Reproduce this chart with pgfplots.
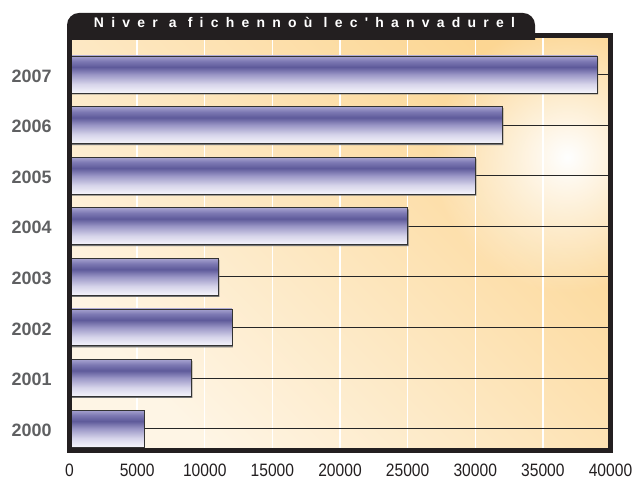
\documentclass[border=0pt]{standalone}
\usepackage{fontspec}
\setmainfont{Liberation Sans}
\newfontfamily\titlefont[Ligatures=TeXOff,LetterSpace=52]{Liberation Sans}
\usepackage{pgfplots}
\pgfplotsset{compat=1.18}
\usetikzlibrary{fadings,calc}
\definecolor{framec}{HTML}{231F20}
\definecolor{cream}{HTML}{FEF5E5}
\definecolor{orng}{HTML}{FCD693}
\definecolor{ytickc}{HTML}{5F6062}
\definecolor{b0}{HTML}{F6F5FB}
\definecolor{b1}{HTML}{D6D4EA}
\definecolor{b2}{HTML}{9A96C6}
\definecolor{b3}{HTML}{5E5A9A}
\definecolor{b4}{HTML}{7D79B3}
\definecolor{b5}{HTML}{A7A3D0}
\pgfdeclareverticalshading{barshade}{100bp}{color(0bp)=(b0); color(25bp)=(b0); color(37bp)=(b1); color(50bp)=(b2); color(60bp)=(b3); color(68bp)=(b4); color(75bp)=(b5); color(100bp)=(b5)}
\tikzfading[name=glowfade, inner color=transparent!0, outer color=transparent!100]
\newcommand{\sx}[1]{\scalebox{0.87}[1]{#1}}
\pgfplotsset{
  barsty/.style={xbar, bar shift=0pt, shade, shading=barshade, draw=black!80, line width=0.6bp},
}
\begin{document}
\begin{tikzpicture}[x=1bp,y=1bp]
\begin{axis}[
  name=ax, at={(0,0)}, anchor=south west,
  set layers,
  width=541bp, height=415bp, scale only axis,
  xbar, bar width=0.73,
  xmin=0, xmax=40000, ymin=-0.445, ymax=7.76,
  xtick={0,5000,10000,15000,20000,25000,30000,35000,40000},
  xticklabels={\sx{0},\sx{5000},\sx{10000},\sx{15000},\sx{20000},\sx{25000},\sx{30000},\sx{35000},\sx{40000}},
  ytick={0,1,2,3,4,5,6,7},
  yticklabels={2000,2001,2002,2003,2004,2005,2006,2007},
  xmajorgrids, ymajorgrids,
  x grid style={white, line width=1.3bp},
  y grid style={black!85, line width=0.7bp},
  axis line style={framec, line width=5bp},
  tick style={draw=none},
  axis background/.style={shade, top color=orng, bottom color=cream, shading angle=-45},
  yticklabel style={font=\fontsize{18}{18}\selectfont\bfseries, text=ytickc, anchor=east, inner sep=0pt, xshift=-13.5bp, yshift=-1.5bp},
  xticklabel style={font=\fontsize{18}{18}\selectfont, text=framec, anchor=north, inner sep=0pt, yshift=-12.5bp},
]
\begin{pgfonlayer}{axis background}
\begin{scope}
\clip (rel axis cs:0,0) rectangle (rel axis cs:1,1);
\fill[white, path fading=glowfade] (rel axis cs:0.92,0.708) circle (135bp);
\end{scope}
\end{pgfonlayer}
\addplot[xbar, bar shift=-1.6bp, fill=black!55, draw=none] coordinates {
(5580,0) (9080,1) (12080,2) (11080,3) (25080,4) (30080,5) (32080,6) (39080,7)};
\addplot[barsty] coordinates {(5500,0)};
\addplot[barsty] coordinates {(9000,1)};
\addplot[barsty] coordinates {(12000,2)};
\addplot[barsty] coordinates {(11000,3)};
\addplot[barsty] coordinates {(25000,4)};
\addplot[barsty] coordinates {(30000,5)};
\addplot[barsty] coordinates {(32000,6)};
\addplot[barsty] coordinates {(39000,7)};
\end{axis}
% frame
\draw[framec, line width=5bp, line join=miter] (ax.south west) rectangle (ax.north east);
% title tab
\begin{scope}[shift={(ax.south west)}]
\clip (-10,411) rectangle (480,450);
\fill[framec, rounded corners=12bp] (-2.5,380) rectangle (465.5,438);
\end{scope}
\node[text=white, inner sep=0pt, font=\fontsize{14}{14}\titlefont\bfseries] at ($(ax.south west)+(235,428.5)$) {Niver a fichennoù lec'hanvadurel};
\pgfresetboundingbox
\path[use as bounding box] ($(ax.south west)+(-69.5,-29)$) rectangle ++(639,480);
\end{tikzpicture}
\end{document}
